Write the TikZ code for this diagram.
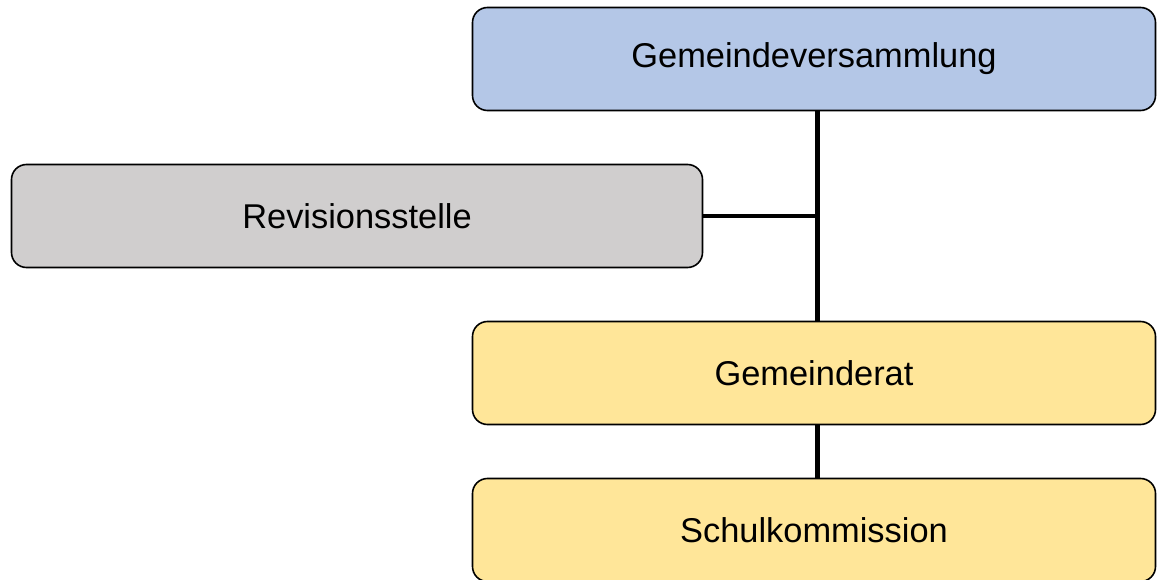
\documentclass[tikz,border=0pt]{standalone}
\usepackage{fontspec}
\setmainfont{Liberation Sans}
\usepackage{tikz}

\begin{document}
\begin{tikzpicture}[x=1pt,y=-1pt]
    \tikzset{every node/.style={font=\fontsize{34.4}{41}\selectfont},
        orgbox/.style={draw=black, line width=1.6pt, rounded corners=15pt,
            minimum width=683pt, minimum height=103pt, inner sep=0pt},
        link/.style={black, line width=4.5pt}}
    \definecolor{gvblue}{HTML}{B4C7E7}
    \definecolor{revgray}{HTML}{D0CECE}
    \definecolor{gryellow}{HTML}{FFE699}
    \useasboundingbox (0,0) rectangle (1157,580);
    \node[orgbox, fill=gvblue] (gv) at (814,59) {Gemeindeversammlung};
    \node[orgbox, fill=revgray, minimum width=691pt] (rev) at (357,216) {Revisionsstelle};
    \node[orgbox, fill=gryellow] (gr) at (814,373) {Gemeinderat};
    \node[orgbox, fill=gryellow] (sk) at (814,530) {Schulkommission};
    \coordinate (gvtop) at ([xshift=3.5pt]gv.south);
    \coordinate (join) at (rev.east -| gvtop);
    \draw[link] (gvtop) -- ([xshift=3.5pt]gr.north);
    \draw[link] (rev.east) -- (join);
    \draw[link] ([xshift=3.5pt]gr.south) -- ([xshift=3.5pt]sk.north);
\end{tikzpicture}
\end{document}
